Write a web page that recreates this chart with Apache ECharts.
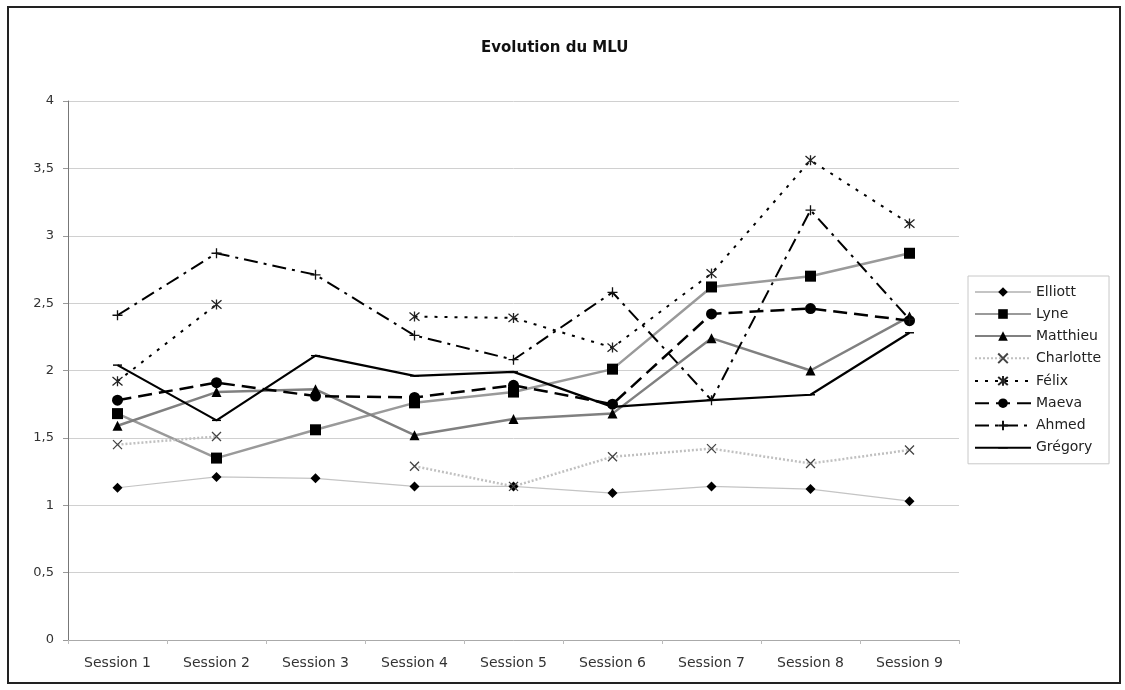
<!DOCTYPE html>
<html>
<head>
<meta charset="utf-8">
<script src="https://cdn.jsdelivr.net/npm/echarts@6/dist/echarts.min.js"></script>
<style>
  html, body { margin: 0; padding: 0; background: #fff; }
  #chart { width: 1125px; height: 690px; }
</style>
</head>
<body>
<div id="chart"></div>
<script>
var sessions = ['Session 1','Session 2','Session 3','Session 4','Session 5','Session 6','Session 7','Session 8','Session 9'];
var yTicks = [0, 0.5, 1, 1.5, 2, 2.5, 3, 3.5, 4];

var elliott   = [1.13, 1.21, 1.20, 1.14, 1.14, 1.09, 1.14, 1.12, 1.03];
var lyne      = [1.68, 1.35, 1.56, 1.76, 1.84, 2.01, 2.62, 2.70, 2.87];
var matthieu  = [1.59, 1.84, 1.86, 1.52, 1.64, 1.68, 2.24, 2.00, 2.40];
var charlotte = [1.45, 1.51, null, 1.29, 1.14, 1.36, 1.42, 1.31, 1.41];
var felix     = [1.92, 2.49, null, 2.40, 2.39, 2.17, 2.72, 3.56, 3.09];
var maeva     = [1.78, 1.91, 1.81, 1.80, 1.89, 1.75, 2.42, 2.46, 2.37];
var ahmed     = [2.41, 2.87, 2.71, 2.26, 2.08, 2.58, 1.78, 3.19, 2.38];
var gregory   = [2.04, 1.63, 2.11, 1.96, 1.99, 1.73, 1.78, 1.82, 2.28];

var crossSym = 'path://M0,0L10,10M10,0L0,10';
var starSym = 'path://M0,0L10,10M10,0L0,10M5,-1L5,11';
var plusSym = 'path://M5,0L5,10M0,5L10,5';
// thin dash, the two moves keep the box square
var dashSym = 'path://M0,0M10,10M0,4.2L10,4.2L10,5.8L0,5.8Z';

var font = 'DejaVu Sans, Verdana, sans-serif';

function line(name, data, lineStyle, symbol, size, itemStyle) {
  return {
    name: name,
    type: 'line',
    data: data,
    connectNulls: false,
    symbol: symbol,
    symbolSize: size,
    lineStyle: lineStyle,
    itemStyle: itemStyle,
    emphasis: { disabled: true },
    z: 2
  };
}

var myChart = echarts.init(document.getElementById('chart'));

var option = {
  animation: false,
  title: {
    text: 'Evolution du MLU',
    left: 476,
    top: 36,
    textStyle: { fontFamily: font, fontSize: 15, fontWeight: 'bold', color: '#111' }
  },
  graphic: [{
    type: 'rect',
    shape: { x: 8, y: 7, width: 1112, height: 676 },
    style: { fill: 'none', stroke: '#222', lineWidth: 2 },
    silent: true
  }],
  legend: {
    orient: 'vertical',
    left: 968,
    top: 276,
    padding: [9, 8, 9, 6],
    itemGap: 8,
    itemWidth: 56,
    itemHeight: 12,
    borderColor: '#c8c8c8',
    borderWidth: 1,
    textStyle: { fontFamily: font, fontSize: 14, color: '#222' },
    data: ['Elliott','Lyne','Matthieu','Charlotte','Félix','Maeva','Ahmed','Grégory']
  },
  grid: { left: 68, right: 166, top: 101, bottom: 50, containLabel: false },
  xAxis: {
    type: 'category',
    data: sessions,
    boundaryGap: true,
    axisLine: { lineStyle: { color: '#aaa' } },
    axisTick: { show: true, length: 4, lineStyle: { color: '#bbb' } },
    axisLabel: { fontFamily: font, fontSize: 14, color: '#333', margin: 16 }
  },
  yAxis: {
    type: 'value',
    min: yTicks[0],
    max: yTicks[yTicks.length - 1],
    interval: 0.5,
    axisLine: { show: true, lineStyle: { color: '#777' } },
    axisTick: { show: true, length: 5, lineStyle: { color: '#999' } },
    splitLine: { lineStyle: { color: '#d0d0d0', width: 1 } },
    axisLabel: {
      fontFamily: font, fontSize: 13, color: '#333', margin: 14,
      formatter: function (v) { return String(v).replace('.', ','); }
    }
  },
  series: [
    line('Elliott', elliott, { color: '#c4c4c4', width: 1.2 }, 'diamond', 10, { color: '#000' }),
    line('Lyne', lyne, { color: '#9a9a9a', width: 2.5 }, 'rect', 11, { color: '#000' }),
    line('Matthieu', matthieu, { color: '#808080', width: 2.5 }, 'triangle', 10, { color: '#000' }),
    line('Charlotte', charlotte, { color: '#c0c0c0', width: 2.5, type: [2, 2] }, crossSym, 9,
      { color: 'none', borderColor: '#444', borderWidth: 1.3 }),
    line('Félix', felix, { color: '#000', width: 2, type: [3, 7] }, starSym, 10,
      { color: 'none', borderColor: '#222', borderWidth: 1.3 }),
    line('Maeva', maeva, { color: '#000', width: 2.5, type: [14, 7] }, 'circle', 11, { color: '#000' }),
    line('Ahmed', ahmed, { color: '#000', width: 2, type: [14, 6, 3, 6] }, plusSym, 10,
      { color: 'none', borderColor: '#111', borderWidth: 1.3 }),
    line('Grégory', gregory, { color: '#000', width: 2.2 }, dashSym, 9, { color: '#000' })
  ]
};

myChart.setOption(option);
</script>
</body>
</html>
